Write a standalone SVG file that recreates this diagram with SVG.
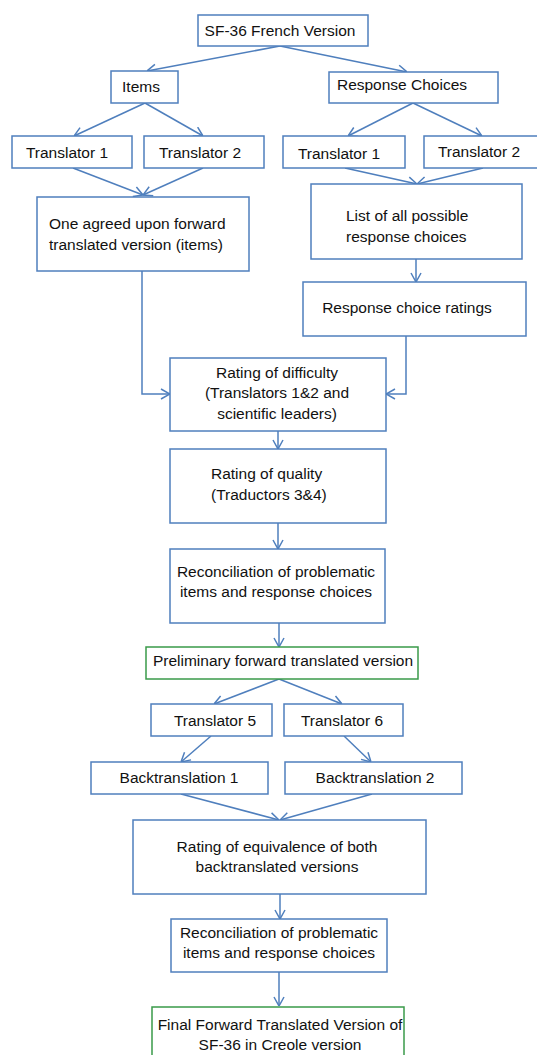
<svg xmlns="http://www.w3.org/2000/svg" width="537" height="1055" viewBox="0 0 537 1055">
<style>
.box{fill:#ffffff;stroke:#4f7fbd;stroke-width:1.5}
.gbox{fill:#ffffff;stroke:#3a9a4a;stroke-width:1.5}
text{font-family:"Liberation Sans",Arial,sans-serif;font-size:15.5px;fill:#111111}
.c{text-anchor:middle}
.con{fill:none;stroke:#4f7fbd;stroke-width:1.5}
</style>
<defs>
<marker id="arr" viewBox="0 0 12 12" refX="12" refY="6" markerWidth="12" markerHeight="12" markerUnits="userSpaceOnUse" orient="auto">
<path d="M3,1 L12,6 L3,11" fill="none" stroke="#4f7fbd" stroke-width="1.5"/>
</marker>
</defs>
<rect width="537" height="1055" fill="#ffffff"/>
<g id="connectors">
<path class="con" marker-end="url(#arr)" d="M280,46 L147,71"/>
<path class="con" marker-end="url(#arr)" d="M280,46 L407,72"/>
<path class="con" marker-end="url(#arr)" d="M145,103 L74,136"/>
<path class="con" marker-end="url(#arr)" d="M145,103 L203,136"/>
<path class="con" marker-end="url(#arr)" d="M413,103 L348,136"/>
<path class="con" marker-end="url(#arr)" d="M413,103 L482,136"/>
<path class="con" marker-end="url(#arr)" d="M73,168 L143,195"/>
<path class="con" marker-end="url(#arr)" d="M203,168 L143,195"/>
<path class="con" marker-end="url(#arr)" d="M345,168 L417,184"/>
<path class="con" marker-end="url(#arr)" d="M483,168 L417,184"/>
<path class="con" marker-end="url(#arr)" d="M416,259 L416,282"/>
<path class="con" marker-end="url(#arr)" d="M142,271 L142,394 L170,394"/>
<path class="con" marker-end="url(#arr)" d="M406,336 L406,394 L386,394"/>
<path class="con" marker-end="url(#arr)" d="M278,431 L278,449"/>
<path class="con" marker-end="url(#arr)" d="M278,523 L278,549"/>
<path class="con" marker-end="url(#arr)" d="M279,623 L279,647"/>
<path class="con" marker-end="url(#arr)" d="M279,679 L214,704"/>
<path class="con" marker-end="url(#arr)" d="M279,679 L342,704"/>
<path class="con" marker-end="url(#arr)" d="M211,736 L181,762"/>
<path class="con" marker-end="url(#arr)" d="M344,736 L371,762"/>
<path class="con" marker-end="url(#arr)" d="M181,794 L279,820"/>
<path class="con" marker-end="url(#arr)" d="M372,794 L280,820"/>
<path class="con" marker-end="url(#arr)" d="M280,894 L280,919"/>
<path class="con" marker-end="url(#arr)" d="M279,972 L279,1006"/>
</g>
<g id="sf36"><rect class="box" x="198" y="15" width="170" height="31"/><text class="c" x="280" y="36">SF-36 French Version</text></g>
<g id="items"><rect class="box" x="111" y="71" width="67" height="32"/><text class="c" x="141" y="92">Items</text></g>
<g id="response"><rect class="box" x="329" y="72" width="169" height="31"/><text class="c" x="402" y="90">Response Choices</text></g>
<g id="lt1"><rect class="box" x="12" y="136" width="120" height="32"/><text class="c" x="67" y="158">Translator 1</text></g>
<g id="lt2"><rect class="box" x="144" y="136" width="120" height="32"/><text class="c" x="200" y="158">Translator 2</text></g>
<g id="rt1"><rect class="box" x="283" y="136" width="122" height="32"/><text class="c" x="339" y="159">Translator 1</text></g>
<g id="rt2"><rect class="box" x="424" y="136" width="116" height="32"/><text class="c" x="479" y="157">Translator 2</text></g>
<g id="agreed"><rect class="box" x="37" y="197" width="212" height="74"/><text x="49" y="229">One agreed upon forward</text><text x="49" y="250">translated version (items)</text></g>
<g id="list"><rect class="box" x="311" y="184" width="211" height="75"/><text x="346" y="221">List of all possible</text><text x="346" y="242">response choices</text></g>
<g id="ratings"><rect class="box" x="303" y="282" width="223" height="54"/><text class="c" x="407" y="313">Response choice ratings</text></g>
<g id="difficulty"><rect class="box" x="170" y="358" width="216" height="73"/><text class="c" x="277" y="378">Rating of difficulty</text><text class="c" x="277" y="398">(Translators 1&amp;2 and</text><text class="c" x="277" y="419">scientific leaders)</text></g>
<g id="quality"><rect class="box" x="170" y="449" width="216" height="74"/><text x="211" y="479">Rating of quality</text><text x="211" y="500">(Traductors 3&amp;4)</text></g>
<g id="reconc1"><rect class="box" x="170" y="549" width="215" height="74"/><text class="c" x="276" y="577">Reconciliation of problematic</text><text class="c" x="276" y="597">items and response choices</text></g>
<g id="prelim"><rect class="gbox" x="146" y="647" width="272" height="32"/><text class="c" x="283" y="666">Preliminary forward translated version</text></g>
<g id="t5"><rect class="box" x="151" y="704" width="121" height="32"/><text class="c" x="215" y="726">Translator 5</text></g>
<g id="t6"><rect class="box" x="284" y="704" width="119" height="32"/><text class="c" x="342" y="726">Translator 6</text></g>
<g id="bt1"><rect class="box" x="91" y="762" width="177" height="32"/><text class="c" x="179" y="783">Backtranslation 1</text></g>
<g id="bt2"><rect class="box" x="285" y="762" width="177" height="32"/><text class="c" x="375" y="783">Backtranslation 2</text></g>
<g id="equivalence"><rect class="box" x="133" y="820" width="293" height="74"/><text class="c" x="277" y="852">Rating of equivalence of both</text><text class="c" x="277" y="872">backtranslated versions</text></g>
<g id="reconc2"><rect class="box" x="171" y="919" width="216" height="53"/><text class="c" x="279" y="938">Reconciliation of problematic</text><text class="c" x="279" y="958">items and response choices</text></g>
<g id="final"><rect class="gbox" x="152" y="1007" width="252" height="60"/><text class="c" x="280" y="1030">Final Forward Translated Version of</text><text class="c" x="280" y="1050">SF-36 in Creole version</text></g>
</svg>
